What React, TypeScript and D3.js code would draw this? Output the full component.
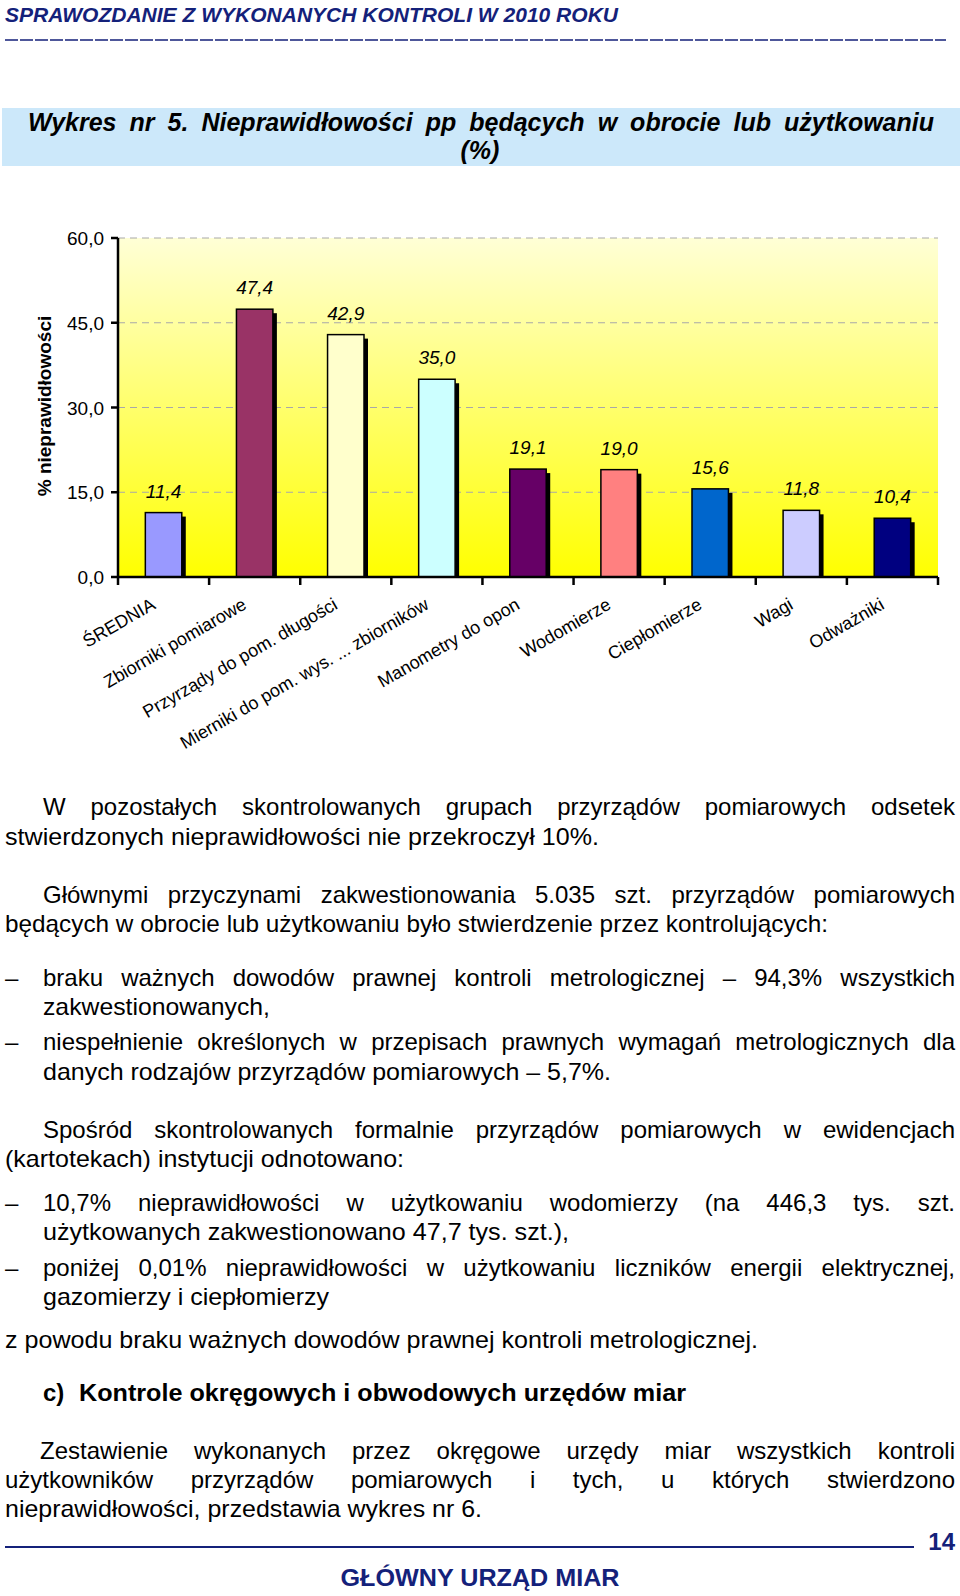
import React from 'react';
import * as d3 from 'd3';

const categories = [
  'ŚREDNIA',
  'Zbiorniki pomiarowe',
  'Przyrządy do pom. długości',
  'Mierniki do pom. wys. ... zbiorników',
  'Manometry do opon',
  'Wodomierze',
  'Ciepłomierze',
  'Wagi',
  'Odważniki',
];
const values = [11.4, 47.4, 42.9, 35.0, 19.1, 19.0, 15.6, 11.8, 10.4];
const barColors = ['#9999FF', '#993366', '#FFFFCC', '#CCFFFF', '#660066', '#FF8080', '#0066CC', '#CCCCFF', '#000080'];
const yTicks = [0, 15, 30, 45, 60];
const yTitle = '% nieprawidłowości';

const headerText = 'SPRAWOZDANIE Z WYKONANYCH KONTROLI W 2010 ROKU';
const titleLine1 = 'Wykres nr 5.  Nieprawidłowości pp będących w obrocie lub użytkowaniu';
const titleLine2 = '(%)';

type Line = { t: string; x0: number; x1: number; y: number; j?: boolean; b?: boolean };
const bodyLines: Line[] = [
  { t: 'W pozostałych skontrolowanych grupach przyrządów pomiarowych odsetek', x0: 43, x1: 955, y: 815, j: true },
  { t: 'stwierdzonych nieprawidłowości nie przekroczył 10%.', x0: 5, x1: 599, y: 845 },
  { t: 'Głównymi przyczynami zakwestionowania 5.035 szt. przyrządów pomiarowych', x0: 43, x1: 955, y: 903, j: true },
  { t: 'będących w obrocie lub użytkowaniu było stwierdzenie przez kontrolujących:', x0: 5, x1: 828, y: 932 },
  { t: 'braku ważnych dowodów prawnej kontroli metrologicznej – 94,3% wszystkich', x0: 43, x1: 955, y: 986, j: true, b: true },
  { t: 'zakwestionowanych,', x0: 43, x1: 270, y: 1015 },
  { t: 'niespełnienie określonych w przepisach prawnych wymagań metrologicznych dla', x0: 43, x1: 955, y: 1050, j: true, b: true },
  { t: 'danych rodzajów przyrządów pomiarowych – 5,7%.', x0: 43, x1: 611, y: 1080 },
  { t: 'Spośród skontrolowanych formalnie przyrządów pomiarowych w ewidencjach', x0: 43, x1: 955, y: 1138, j: true },
  { t: '(kartotekach) instytucji odnotowano:', x0: 5, x1: 404, y: 1167 },
  { t: '10,7% nieprawidłowości w użytkowaniu wodomierzy (na 446,3 tys. szt.', x0: 43, x1: 955, y: 1211, j: true, b: true },
  { t: 'użytkowanych zakwestionowano 47,7 tys. szt.),', x0: 43, x1: 569, y: 1240 },
  { t: 'poniżej 0,01% nieprawidłowości w użytkowaniu liczników energii elektrycznej,', x0: 43, x1: 955, y: 1276, j: true, b: true },
  { t: 'gazomierzy i ciepłomierzy', x0: 43, x1: 329, y: 1305 },
  { t: 'z powodu braku ważnych dowodów prawnej kontroli metrologicznej.', x0: 5, x1: 758, y: 1348 },
  { t: 'Zestawienie wykonanych przez okręgowe urzędy miar wszystkich kontroli', x0: 40, x1: 955, y: 1459, j: true },
  { t: 'użytkowników przyrządów pomiarowych i tych, u których stwierdzono', x0: 5, x1: 955, y: 1488, j: true },
  { t: 'nieprawidłowości, przedstawia wykres nr 6.', x0: 5, x1: 482, y: 1517 },
];
const headingLabel = 'c)';
const headingText = 'Kontrole okręgowych i obwodowych urzędów miar';
const footerPage = '14';
const footerText = 'GŁÓWNY URZĄD MIAR';

const FONT = '"Liberation Sans", Arial, Helvetica, sans-serif';
const NAVY = '#14217A';

let ctx: CanvasRenderingContext2D | null = null;
function measure(text: string, font: string): number {
  if (!ctx) ctx = document.createElement('canvas').getContext('2d');
  if (!ctx) return text.length * 10;
  ctx.font = font;
  return ctx.measureText(text).width;
}

function Justified({ text, x0, x1, y, size, weight = 'normal', fstyle = 'normal', fill = '#000' }: any) {
  const words = text.split(/\s+/);
  const font = `${fstyle} ${weight} ${size}px "Liberation Sans"`;
  const widths = words.map((w: string) => measure(w, font));
  const total = widths.reduce((a: number, b: number) => a + b, 0);
  const gap = words.length > 1 ? (x1 - x0 - total) / (words.length - 1) : 0;
  let x = x0;
  const spans = words.map((w: string, i: number) => {
    const el = (
      <tspan key={i} x={x}>
        {w}
      </tspan>
    );
    x += widths[i] + gap;
    return el;
  });
  return (
    <text y={y} fontSize={size} fontWeight={weight} fontStyle={fstyle} fill={fill} fontFamily={FONT}>
      {spans}
    </text>
  );
}

export default function App() {
  const W = 960;
  const H = 1596;
  const left = 118;
  const right = 938;
  const top = 238;
  const bottom = 577;

  const x = d3.scaleBand<string>().domain(categories).range([left, right]).paddingInner(0).paddingOuter(0);
  const y = d3.scaleLinear().domain([0, 60]).range([bottom, top]);
  const bw = x.bandwidth() * 0.4;
  const boundaries = d3.range(categories.length + 1).map((i) => left + i * x.bandwidth());
  const fmt = (v: number) => d3.format('.1f')(v).replace('.', ',');

  return (
    <svg
      width={W}
      height={H}
      viewBox={`0 0 ${W} ${H}`}
      style={{ position: 'absolute', left: 0, top: 0, display: 'block', background: '#fff' }}
      fontFamily={FONT}
    >
      <defs>
        <linearGradient id="bg" x1="0" y1="0" x2="0" y2="1">
          <stop offset="0%" stopColor="#FFFFD6" />
          <stop offset="100%" stopColor="#FFFF00" />
        </linearGradient>
        <clipPath id="plotClip">
          <rect x={left} y={top - 20} width={right - left} height={bottom - top + 20} />
        </clipPath>
      </defs>
      <rect x={0} y={0} width={W} height={H} fill="#fff" />

      {/* header */}
      <text x={5} y={22} fontSize={20} fontWeight="bold" fontStyle="italic" fill={NAVY} textLength={613} lengthAdjust="spacingAndGlyphs">
        {headerText}
      </text>
      <line x1={5} x2={946} y1={40} y2={40} stroke={NAVY} strokeWidth={1.5} strokeDasharray="13 2" />

      {/* title box */}
      <rect x={2} y={108} width={958} height={58} fill="#CCE8FA" />
      <Justified text={titleLine1} x0={28} x1={934} y={131} size={25} weight="bold" fstyle="italic" />
      <text x={480} y={159} fontSize={25} fontWeight="bold" fontStyle="italic" textAnchor="middle">
        {titleLine2}
      </text>

      {/* plot background */}
      <rect x={left} y={top} width={right - left} height={bottom - top} fill="url(#bg)" />
      {yTicks
        .filter((t) => t > 0)
        .map((t) => (
          <line key={t} x1={left} x2={right} y1={y(t)} y2={y(t)} stroke="#A8A8A8" strokeWidth={1} strokeDasharray="7 5" />
        ))}

      {/* bars */}
      <g clipPath="url(#plotClip)">
        {categories.map((c, i) => {
          const cx = (x(c) as number) + x.bandwidth() / 2;
          const x0 = cx - bw / 2;
          return (
            <g key={c}>
              <rect x={x0 + 4} y={y(values[i]) + 4} width={bw} height={bottom - y(values[i])} fill="#000" />
              <rect x={x0} y={y(values[i])} width={bw} height={bottom - y(values[i])} fill={barColors[i]} stroke="#000" strokeWidth={1.5} />
            </g>
          );
        })}
      </g>
      {categories.map((c, i) => {
        const cx = (x(c) as number) + x.bandwidth() / 2;
        return (
          <text key={c} x={cx} y={y(values[i]) - 15} fontSize={19} fontStyle="italic" textAnchor="middle" fill="#000">
            {fmt(values[i])}
          </text>
        );
      })}

      {/* axes */}
      <line x1={left} x2={left} y1={top} y2={bottom + 1} stroke="#000" strokeWidth={2.5} />
      <line x1={left - 1} x2={right} y1={bottom} y2={bottom} stroke="#000" strokeWidth={2.5} />
      {yTicks.map((t) => (
        <g key={t}>
          <line x1={left - 7} x2={left} y1={y(t)} y2={y(t)} stroke="#000" strokeWidth={2.5} />
          <text x={104} y={y(t) + 7} fontSize={19} textAnchor="end" fill="#000">
            {fmt(t)}
          </text>
        </g>
      ))}
      {boundaries.map((bx, i) => (
        <line key={i} x1={bx} x2={bx} y1={bottom} y2={bottom + 8} stroke="#000" strokeWidth={2.5} />
      ))}
      <text transform="translate(51,406) rotate(-90)" fontSize={19} fontWeight="bold" textAnchor="middle" fill="#000">
        {yTitle}
      </text>
      {categories.map((c) => {
        const cx = (x(c) as number) + x.bandwidth() / 2;
        return (
          <text key={c} transform={`translate(${cx - 7},608) rotate(-30)`} fontSize={18} textAnchor="end" fill="#000">
            {c}
          </text>
        );
      })}

      {/* body text */}
      {bodyLines.map((l, i) => (
        <g key={i}>
          {l.b && (
            <text x={5} y={l.y} fontSize={24} fill="#000">
              –
            </text>
          )}
          {l.j ? (
            <Justified text={l.t} x0={l.x0} x1={l.x1} y={l.y} size={24} />
          ) : (
            <text x={l.x0} y={l.y} fontSize={24} fill="#000" textLength={l.x1 - l.x0} lengthAdjust="spacingAndGlyphs">
              {l.t}
            </text>
          )}
        </g>
      ))}
      <text x={43} y={1401} fontSize={24} fontWeight="bold" fill="#000">
        {headingLabel}
      </text>
      <text x={79} y={1401} fontSize={24} fontWeight="bold" fill="#000" textLength={686 - 79} lengthAdjust="spacingAndGlyphs">
        {headingText}
      </text>

      {/* footer */}
      <line x1={5} x2={914} y1={1547} y2={1547} stroke={NAVY} strokeWidth={2} />
      <text x={955} y={1550} fontSize={24} fontWeight="bold" fill={NAVY} textAnchor="end">
        {footerPage}
      </text>
      <text x={480} y={1586} fontSize={24} fontWeight="bold" fill={NAVY} textAnchor="middle" textLength={279} lengthAdjust="spacingAndGlyphs">
        {footerText}
      </text>
    </svg>
  );
}
